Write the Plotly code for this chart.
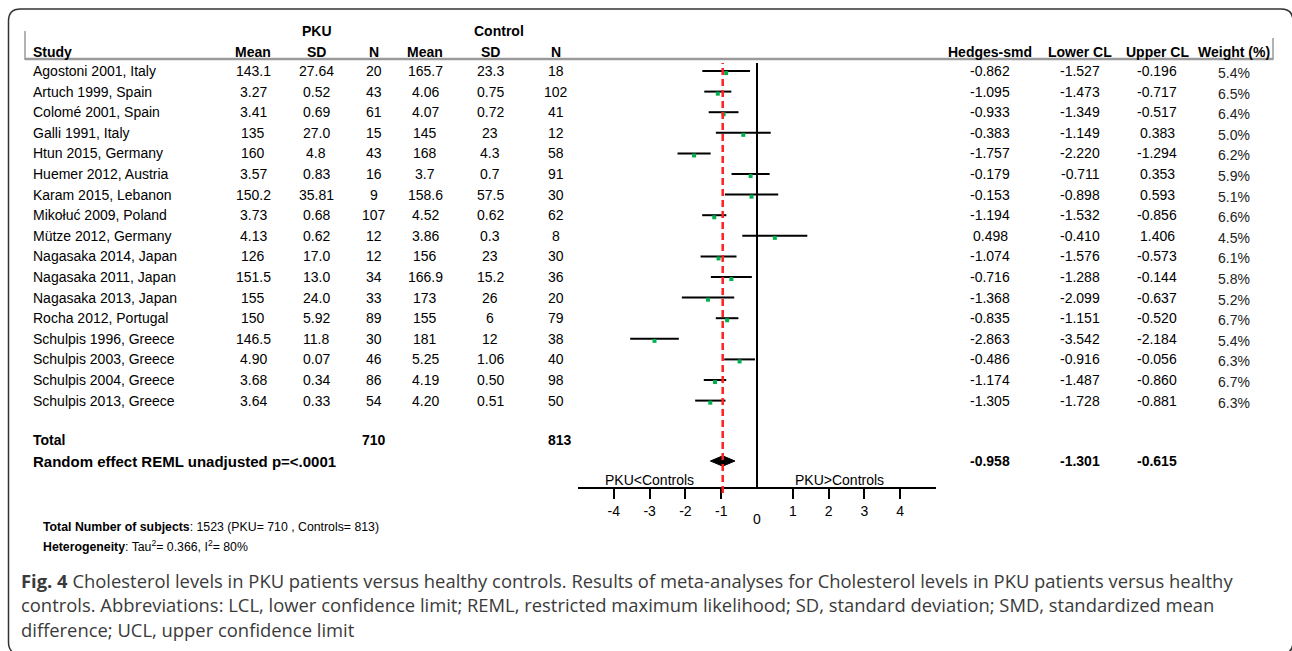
import plotly.graph_objects as go

W, H = 1292, 651

studies = ["Agostoni 2001, Italy", "Artuch 1999, Spain", "Colomé 2001, Spain", "Galli 1991, Italy",
           "Htun 2015, Germany", "Huemer 2012, Austria", "Karam 2015, Lebanon", "Mikołuć 2009, Poland",
           "Mütze 2012, Germany", "Nagasaka 2014, Japan", "Nagasaka 2011, Japan", "Nagasaka 2013, Japan",
           "Rocha 2012, Portugal", "Schulpis 1996, Greece", "Schulpis 2003, Greece", "Schulpis 2004, Greece",
           "Schulpis 2013, Greece"]
pku_mean = ["143.1", "3.27", "3.41", "135", "160", "3.57", "150.2", "3.73", "4.13", "126", "151.5", "155", "150", "146.5", "4.90", "3.68", "3.64"]
pku_sd = ["27.64", "0.52", "0.69", "27.0", "4.8", "0.83", "35.81", "0.68", "0.62", "17.0", "13.0", "24.0", "5.92", "11.8", "0.07", "0.34", "0.33"]
pku_n = [20, 43, 61, 15, 43, 16, 9, 107, 12, 12, 34, 33, 89, 30, 46, 86, 54]
ctl_mean = ["165.7", "4.06", "4.07", "145", "168", "3.7", "158.6", "4.52", "3.86", "156", "166.9", "173", "155", "181", "5.25", "4.19", "4.20"]
ctl_sd = ["23.3", "0.75", "0.72", "23", "4.3", "0.7", "57.5", "0.62", "0.3", "23", "15.2", "26", "6", "12", "1.06", "0.50", "0.51"]
ctl_n = [18, 102, 41, 12, 58, 91, 30, 62, 8, 30, 36, 20, 79, 38, 40, 98, 50]
smd = [-0.862, -1.095, -0.933, -0.383, -1.757, -0.179, -0.153, -1.194, 0.498, -1.074, -0.716, -1.368, -0.835, -2.863, -0.486, -1.174, -1.305]
lcl = [-1.527, -1.473, -1.349, -1.149, -2.220, -0.711, -0.898, -1.532, -0.410, -1.576, -1.288, -2.099, -1.151, -3.542, -0.916, -1.487, -1.728]
ucl = [-0.196, -0.717, -0.517, 0.383, -1.294, 0.353, 0.593, -0.856, 1.406, -0.573, -0.144, -0.637, -0.520, -2.184, -0.056, -0.860, -0.881]
weight = ["5.4%", "6.5%", "6.4%", "5.0%", "6.2%", "5.9%", "5.1%", "6.6%", "4.5%", "6.1%", "5.8%", "5.2%", "6.7%", "5.4%", "6.3%", "6.7%", "6.3%"]
total_pku, total_ctl = 710, 813
pooled, pooled_l, pooled_u = -0.958, -1.301, -0.615
x_ticks = [-4, -3, -2, -1, 1, 2, 3, 4]

# layout helpers (pixel -> paper)
def px(x):
    return x / W

def py(y):
    return 1 - y / H

ROW0, ROWH = 71, 20.6
def prow(ypix):
    return (ypix - ROW0) / ROWH

rows = list(range(len(studies)))
r_total = prow(440)
r_random = prow(461)
r_head = prow(52)
r_group = prow(31)
r_dir = prow(480)

FS = 14

fig = go.Figure()

# CI lines
cx, cy = [], []
for i in rows:
    cx += [lcl[i], ucl[i], None]
    cy += [i, i, None]
fig.add_trace(go.Scatter(x=cx, y=cy, mode="lines", line=dict(color="black", width=2), hoverinfo="skip"))
# point estimates
fig.add_trace(go.Scatter(x=smd, y=[r + 0.1 for r in rows], mode="markers",
                         marker=dict(symbol="square", size=4, color="#00b050"), hoverinfo="skip"))
# pooled diamond
dh = 0.25
fig.add_trace(go.Scatter(x=[pooled_l, pooled, pooled_u, pooled, pooled_l],
                         y=[r_random, r_random - dh, r_random, r_random + dh, r_random],
                         mode="lines", fill="toself", fillcolor="black", line=dict(color="black", width=1),
                         hoverinfo="skip"))

fig.update_layout(
    width=W, height=H, margin=dict(l=0, r=0, t=0, b=0),
    paper_bgcolor="white", plot_bgcolor="white", showlegend=False,
    font=dict(family="Liberation Sans, Arial, sans-serif", size=FS, color="black"),
    xaxis=dict(domain=[px(578), px(936)], range=[-5, 5], showgrid=False, zeroline=False,
               showline=True, linecolor="black", linewidth=1.5,
               ticks="outside", ticklen=10, tickwidth=1.5, tickcolor="black",
               tickvals=x_ticks, ticktext=[str(t) for t in x_ticks],
               tickfont=dict(size=14, color="black"), fixedrange=True),
    yaxis=dict(domain=[py(487), 1], range=[prow(487), prow(0)], visible=False, fixedrange=True),
)

shapes = []
# zero line
shapes.append(dict(type="line", xref="x", yref="paper", x0=0, x1=0, y0=py(487), y1=py(63),
                   line=dict(color="black", width=2)))
# pooled dashed line
shapes.append(dict(type="line", xref="x", yref="paper", x0=pooled, x1=pooled, y0=py(493), y1=py(63),
                   line=dict(color="#ff2020", width=2.5, dash="7px,4px")))
# header rule
shapes.append(dict(type="line", xref="paper", yref="paper", x0=px(25), x1=px(1273), y0=py(59), y1=py(59),
                   line=dict(color="#9a9a9a", width=2.5)))
shapes.append(dict(type="line", xref="paper", yref="paper", x0=px(25), x1=px(25), y0=py(31), y1=py(60),
                   line=dict(color="#9a9a9a", width=1.5)))
shapes.append(dict(type="line", xref="paper", yref="paper", x0=px(1273), x1=px(1273), y0=py(38), y1=py(60),
                   line=dict(color="#9a9a9a", width=1.5)))
# outer rounded frame (right and bottom edges fall just outside the canvas)
L, T, R, B, rad = 8.5, 9, 1293, 654, 12
def P(x, y):
    return f"{px(x):.5f},{py(y):.5f}"
path = (f"M {P(L, T + rad)} Q {P(L, T)} {P(L + rad, T)} L {P(R - rad, T)} Q {P(R, T)} {P(R, T + rad)} "
        f"L {P(R, B - rad)} Q {P(R, B)} {P(R - rad, B)} L {P(L + rad, B)} Q {P(L, B)} {P(L, B - rad)} Z")
shapes.append(dict(type="path", xref="paper", yref="paper", path=path, line=dict(color="#333333", width=1.5)))
fig.update_layout(shapes=shapes)

ann = []
def T_(text, x, y, xanchor="center", size=FS, bold=False, yref="y", color="black", yshift=0, family=None):
    t = f"<b>{text}</b>" if bold else text
    d = dict(text=t, x=px(x), y=y, xref="paper", yref=yref, xanchor=xanchor, yanchor="middle",
             showarrow=False, font=dict(size=size, color=color), yshift=yshift)
    if family:
        d["font"]["family"] = family
    ann.append(d)

# headers
T_("PKU", 317, r_group, bold=True)
T_("Control", 499, r_group, bold=True)
T_("Study", 31, r_head, xanchor="left", bold=True)
col_x = {"pm": 253, "ps": 316, "pn": 374, "cm": 425, "cs": 490, "cn": 556,
         "smd": 990, "l": 1080, "u": 1157, "w": 1234}
for key, lab in [("pm", "Mean"), ("ps", "SD"), ("pn", "N"), ("cm", "Mean"), ("cs", "SD"), ("cn", "N"),
                 ("smd", "Hedges-smd"), ("l", "Lower CL"), ("u", "Upper CL"), ("w", "Weight (%)")]:
    T_(lab, col_x[key], r_head, bold=True)

for i in rows:
    T_(studies[i], 31, i, xanchor="left")
    T_(pku_mean[i], col_x["pm"], i)
    T_(pku_sd[i], col_x["ps"], i)
    T_(str(pku_n[i]), col_x["pn"], i)
    T_(ctl_mean[i], col_x["cm"], i)
    T_(ctl_sd[i], col_x["cs"], i)
    T_(str(ctl_n[i]), col_x["cn"], i)
    T_(f"{smd[i]:.3f}", col_x["smd"], i)
    T_(f"{lcl[i]:.3f}", col_x["l"], i)
    T_(f"{ucl[i]:.3f}", col_x["u"], i)
    T_(weight[i], col_x["w"], i, yshift=-2, size=14, color="#222222")

T_("Total", 31, r_total, xanchor="left", bold=True)
T_(str(total_pku), col_x["pn"], r_total, bold=True)
T_(str(total_ctl), 560, r_total, bold=True)
T_("Random effect REML unadjusted p=<.0001", 31, r_random, xanchor="left", bold=True, size=15)
T_(f"{pooled:.3f}", col_x["smd"], r_random, bold=True)
T_(f"{pooled_l:.3f}", col_x["l"], r_random, bold=True)
T_(f"{pooled_u:.3f}", col_x["u"], r_random, bold=True)

# direction labels
ann.append(dict(text="PKU<Controls", x=-3, y=r_dir, xref="x", yref="y", showarrow=False,
                font=dict(size=14), xanchor="center", yanchor="middle"))
ann.append(dict(text="PKU>Controls", x=2.3, y=r_dir, xref="x", yref="y", showarrow=False,
                font=dict(size=14), xanchor="center", yanchor="middle"))
# zero tick label (lowered)
ann.append(dict(text="0", x=0, y=py(519), xref="x", yref="paper", showarrow=False,
                font=dict(size=14), xanchor="center", yanchor="middle"))

# footer
T_(f"<b>Total Number of subjects</b>: {total_pku + total_ctl} (PKU= {total_pku} , Controls= {total_ctl})",
   41, py(527), xanchor="left", size=12.3, yref="paper")
T_("<b>Heterogeneity</b>: Tau<sup>2</sup>= 0.366, I<sup>2</sup>= 80%", 41, py(546), xanchor="left", size=12.3, yref="paper")

cap_font = "Open Sans, Noto Sans, sans-serif"
cap = ["<b>Fig. 4</b> Cholesterol levels in PKU patients versus healthy controls. Results of meta-analyses for Cholesterol levels in PKU patients versus healthy",
       "controls. Abbreviations: LCL, lower confidence limit; REML, restricted maximum likelihood; SD, standard deviation; SMD, standardized mean",
       "difference; UCL, upper confidence limit"]
for k, line in enumerate(cap):
    T_(line, 19, py(580 + 24.5 * k), xanchor="left", size=18.4, yref="paper", color="#3a3a3a", family=cap_font)

fig.update_layout(annotations=ann)
fig.write_html("out.html")
